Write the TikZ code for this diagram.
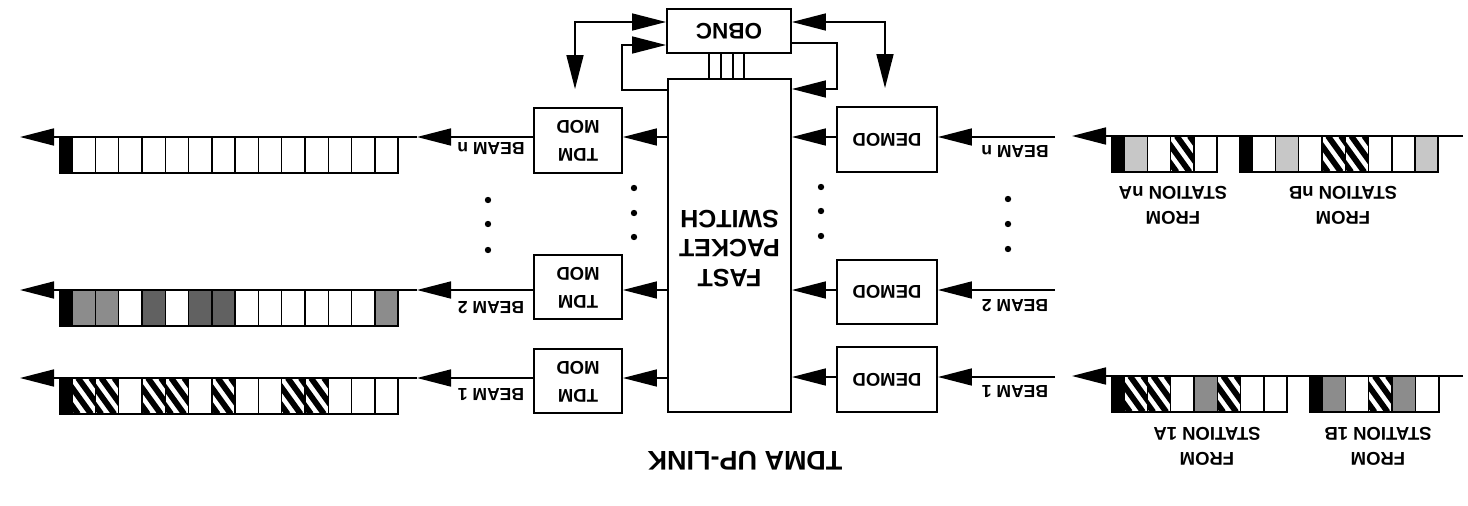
\documentclass[tikz,border=0pt]{standalone}
\usepackage{graphicx}
\usepackage{fontspec}
\setmainfont{Liberation Sans}
\usetikzlibrary{arrows.meta}
\newcommand\fsz[2]{\fontsize{#1}{#2}\selectfont\bfseries}
\newcommand\tdmfr[4]{%
  \fill (#1,#2) rectangle ++(12,36);
  \foreach \c [count=\i from 0] in {#4} {\path[\c] ({#1+12+\i*23.3},#2) rectangle ++(23.3,36);}
  \draw[line width=2pt] (#1,#2) rectangle ({#1+12+#3*23.3},{#2+36});
}
\begin{document}
\begin{tikzpicture}[x=1pt,y=-1pt,
  box/.style={draw, line width=1.9pt, inner sep=0pt},
  ln/.style={line width=1.6pt},
  arr/.style={ln, -{Triangle[length=34pt,width=17pt]}},
  arr2/.style={ln, {Triangle[length=34pt,width=17pt]}-{Triangle[length=34pt,width=17pt]}},
  lbl/.style={rotate=180, inner sep=0pt, font=\fsz{17.5}{21}},
  slbl/.style={rotate=180, inner sep=0pt, align=center, font=\fsz{18.5}{25}},
  Wc/.style={draw, line width=1.4pt, fill=white},
  Hc/.style={Wc, path picture={\foreach \k in {-33,-20,...,26} \draw[line width=5.8pt] ([xshift=\k pt]path picture bounding box.north west) -- ++(26pt,-36pt);}},
  Lc/.style={draw, line width=1.4pt, fill=black!22},
  Mc/.style={draw, line width=1.4pt, fill=black!45},
  Dc/.style={draw, line width=1.4pt, fill=black!62},
  dot/.style={fill=black}
]
\fill[white] (0,0) rectangle (1468,506);
\useasboundingbox (0,0) rectangle (1468,506);

% central blocks
\node[box, minimum width=124pt, minimum height=44pt, font=\fsz{22.5}{26}] (obnc) at (729,31) {\rotatebox{180}{OBNC}};
\node[box, minimum width=123pt, minimum height=333pt, font=\fsz{25}{29.5}] (sw) at (729.5,245.5)
  {\rotatebox{180}{\begin{tabular}{@{}c@{}}FAST\\PACKET\\SWITCH\end{tabular}}};

\node[box, minimum width=88pt, minimum height=65pt, font=\fsz{18.5}{28}] (tdmn) at (578,140.5) {\rotatebox{180}{\begin{tabular}{@{}c@{}}TDM\\MOD\end{tabular}}};
\node[box, minimum width=88pt, minimum height=64pt, font=\fsz{18.5}{28}] (tdm2) at (578,287) {\rotatebox{180}{\begin{tabular}{@{}c@{}}TDM\\MOD\end{tabular}}};
\node[box, minimum width=88pt, minimum height=64pt, font=\fsz{18.5}{28}] (tdm1) at (578,381) {\rotatebox{180}{\begin{tabular}{@{}c@{}}TDM\\MOD\end{tabular}}};

\node[box, minimum width=100pt, minimum height=65pt, font=\fsz{18.5}{22}] (dmn) at (887,139.5) {\rotatebox{180}{DEMOD}};
\node[box, minimum width=100pt, minimum height=64pt, font=\fsz{18.5}{22}] (dm2) at (887,292) {\rotatebox{180}{DEMOD}};
\node[box, minimum width=100pt, minimum height=65pt, font=\fsz{18.5}{22}] (dm1) at (887,379.5) {\rotatebox{180}{DEMOD}};

% bus between OBNC and switch
\foreach \x in {709,721,733,744} \draw[ln] (obnc.south -| \x,0) -- (sw.north -| \x,0);

% OBNC loops
\coordinate (l1) at (622,90); \coordinate (l2) at (622,45);
\draw[arr] (sw.west |- l1) -- (l1) -- (l2) -- (obnc.west |- l2);
\coordinate (q1) at (837,43); \coordinate (q2) at (837,89);
\draw[arr] (obnc.east |- q1) -- (q1) -- (q2) -- (sw.east |- q2);
\draw[arr2, shorten <=18pt] ([xshift=-3pt]tdmn.north) |- ([yshift=9pt]obnc.west);
\draw[arr2, shorten <=18pt] ([xshift=-2pt]dmn.north) |- ([yshift=9pt]obnc.east);

% rows (right side: input)
\coordinate (inn) at (1055,137); \coordinate (in2) at (1055,290); \coordinate (in1) at (1055,377);
\foreach \r/\d in {inn/dmn, in2/dm2, in1/dm1} {
  \draw[arr] (\r) -- (\d.east |- \r);
  \draw[arr] (\d.west |- \r) -- (sw.east |- \r);
}
% rows (left side: output)
\coordinate (on) at (417,137); \coordinate (o2) at (417,290); \coordinate (o1) at (417,378);
\coordinate (fn) at (20,137); \coordinate (f2) at (20,290); \coordinate (f1) at (20,378);
\foreach \r/\t/\f in {on/tdmn/fn, o2/tdm2/f2, o1/tdm1/f1} {
  \draw[arr] (sw.west |- \r) -- (\t.east |- \r);
  \draw[arr] (\t.west |- \r) -- (\r);
}

% left frames
\tdmfr{60}{137}{14}{Wc,Wc,Wc,Wc,Wc,Wc,Wc,Wc,Wc,Wc,Wc,Wc,Wc,Wc}
\tdmfr{60}{290}{14}{Mc,Mc,Wc,Dc,Wc,Dc,Dc,Wc,Wc,Wc,Wc,Wc,Wc,Mc}
\tdmfr{60}{378}{14}{Hc,Hc,Wc,Hc,Hc,Wc,Hc,Wc,Wc,Hc,Hc,Wc,Wc,Wc}
\foreach \a/\b in {on/fn, o2/f2, o1/f1} \draw[arr] (\a) -- (\b);

% right frames
\tdmfr{1112}{136}{4}{Lc,Wc,Hc,Wc}
\tdmfr{1240}{136}{8}{Wc,Lc,Wc,Hc,Hc,Wc,Wc,Lc}
\tdmfr{1112}{376}{7}{Hc,Hc,Wc,Mc,Hc,Wc,Wc}
\tdmfr{1310}{376}{5}{Mc,Wc,Hc,Mc,Wc}
\coordinate (sn) at (1463,136); \coordinate (tn) at (1072,136);
\coordinate (s1) at (1463,376); \coordinate (t1) at (1072,376);
\draw[arr] (sn) -- (tn);
\draw[arr] (s1) -- (t1);

% labels
\node[lbl] (brn) at (1015,152) {BEAM n};
\node[lbl] (br2) at (1015,306) {BEAM 2};
\node[lbl] (br1) at (1015,392) {BEAM 1};
\node[lbl] (bln) at (491,149) {BEAM n};
\node[lbl] (bl2) at (491,308) {BEAM 2};
\node[lbl] (bl1) at (491,395) {BEAM 1};

\node[slbl] (fnA) at (1173,205) {FROM\\STATION nA};
\node[slbl] (fnB) at (1343,205) {FROM\\STATION nB};
\node[slbl] (f1A) at (1207,446) {FROM\\STATION 1A};
\node[slbl] (f1B) at (1378,446) {FROM\\STATION 1B};

\node[rotate=180, inner sep=0pt, font=\fsz{27}{32}] (title) at (745,461) {TDMA UP-LINK};

% dots
\foreach \x/\y in {1008/199, 1008/224, 1008/249, 821/187, 821/211, 821/236,
                   634/188, 634/213, 634/237, 488/200, 488/224, 488/250}
  \fill[dot] (\x,\y) circle (3.2pt);
\end{tikzpicture}
\end{document}
